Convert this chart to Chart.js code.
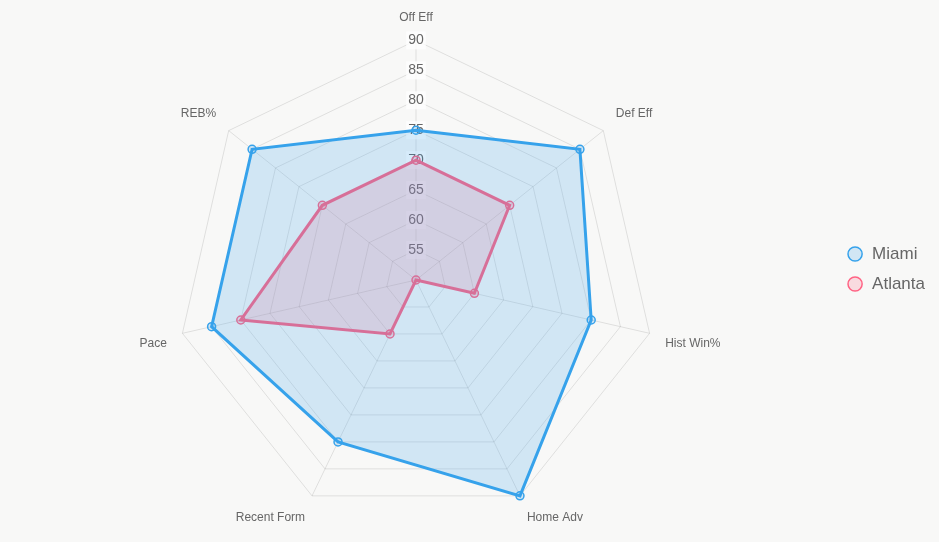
<!DOCTYPE html>
<html>
<head>
<meta charset="utf-8">
<script src="https://cdn.jsdelivr.net/npm/chart.js@4"></script>
<style>
  html, body { margin: 0; padding: 0; background: #f8f8f7; }
  #wrap { width: 939px; height: 542px; }
</style>
</head>
<body>
<div id="wrap"><canvas id="radar"></canvas></div>
<script>
// categories and values
const categories = ["Off Eff", "Def Eff", "Hist Win%", "Home Adv", "Recent Form", "Pace", "REB%"];
const miami = [75, 85, 80, 90, 80, 85, 85];
const atlanta = [70, 70, 60, 50, 60, 80, 70];
const tickValues = [50, 55, 60, 65, 70, 75, 80, 85, 90];

new Chart(document.getElementById("radar"), {
  type: "radar",
  data: {
    labels: categories,
    datasets: [
      {
        label: "Miami",
        data: miami,
        borderColor: "#36A2EB",
        backgroundColor: "rgba(54,162,235,0.2)",
        pointBackgroundColor: "rgba(54,162,235,0.2)",
        pointBorderColor: "#36A2EB",
        borderWidth: 3,
        pointRadius: 4,
        pointBorderWidth: 1.5,
      },
      {
        label: "Atlanta",
        data: atlanta,
        borderColor: "#FF6384",
        backgroundColor: "rgba(255,99,132,0.2)",
        pointBackgroundColor: "rgba(255,99,132,0.2)",
        pointBorderColor: "#FF6384",
        borderWidth: 3,
        pointRadius: 4,
        pointBorderWidth: 1.5,
      },
    ],
  },
  options: {
    responsive: true,
    maintainAspectRatio: false,
    animation: false,
    layout: { padding: { top: -2, bottom: 2, right: 4 } },
    plugins: {
      legend: {
        position: "right",
        labels: {
          usePointStyle: true,
          boxWidth: 19,
          boxHeight: 10,
          color: "#666",
          font: { size: 17 },
          padding: 13,
        },
      },
      tooltip: { enabled: false },
    },
    scales: {
      r: {
        min: tickValues[0],
        max: tickValues[tickValues.length - 1],
        ticks: {
          stepSize: 5,
          color: "#666",
          font: { size: 14 },
        },
        pointLabels: {
          color: "#666",
          font: { size: 12 },
          padding: 7,
        },
      },
    },
  },
});
</script>
</body>
</html>
